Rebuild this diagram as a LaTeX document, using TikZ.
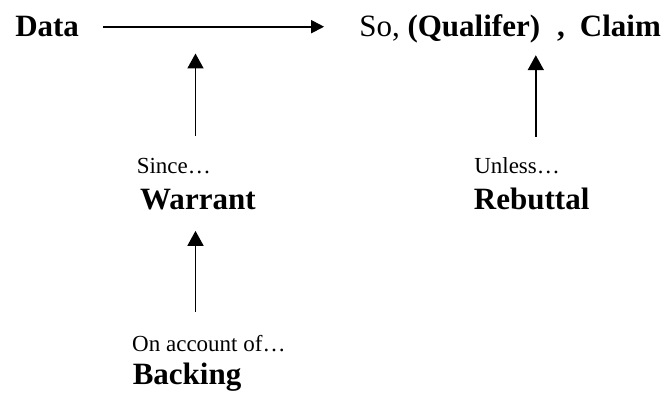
\documentclass[tikz,border=0pt]{standalone}
\usepackage{fontspec}
\setmainfont{Liberation Serif}
\usetikzlibrary{arrows.meta}

\begin{document}
\begin{tikzpicture}[
    term/.style={font=\fontsize{31}{36}\selectfont\bfseries, inner sep=0pt, anchor=base west},
    cue/.style={font=\fontsize{23}{27}\selectfont, inner sep=0pt, anchor=base west},
    flow/.style={-{Triangle[length=13pt,width=13pt]}, line width=1.8pt},
    lift/.style={-{Triangle[length=15pt,width=16pt]}, line width=1.8pt}]
    % Frame
    \useasboundingbox (0,0) rectangle (23.37,13.78);

    % Data and claim
    \node[term] (data) at (0.53,12.49) {Data};
    \node[cue, font=\fontsize{31}{36}\selectfont] (claim) at (12.62,12.49)
        {So, \textbf{(Qualifer)}\hspace{17pt}\textbf{,}\hspace{15pt}\textbf{Claim}};

    % Warrant, rebuttal, backing
    \node[cue] (since) at (4.80,7.69) {Since…};
    \node[term] (warrant) at (4.92,6.40) {Warrant};
    \node[cue] (unless) at (16.66,7.69) {Unless…};
    \node[term] (rebuttal) at (16.65,6.40) {Rebuttal};
    \node[cue] (onacc) at (4.64,1.41) {On account of…};
    \node[term] (backing) at (4.66,0.25) {Backing};

    % Arrows
    \coordinate (warrantlink) at (6.87,11.90);
    \coordinate (rebuttallink) at (18.83,11.84);
    \draw[flow] ([xshift=0.85cm]data.east) -- ([xshift=-1.23cm]data.east -| claim.west);
    \draw[lift] ([yshift=0.77cm]since.north -| warrantlink) -- (warrantlink);
    \draw[lift] ([yshift=0.72cm]unless.north -| rebuttallink) -- (rebuttallink);
    \draw[lift] ([yshift=0.83cm]onacc.north -| warrantlink) -- ([yshift=-0.71cm]warrant.south -| warrantlink);
\end{tikzpicture}
\end{document}
